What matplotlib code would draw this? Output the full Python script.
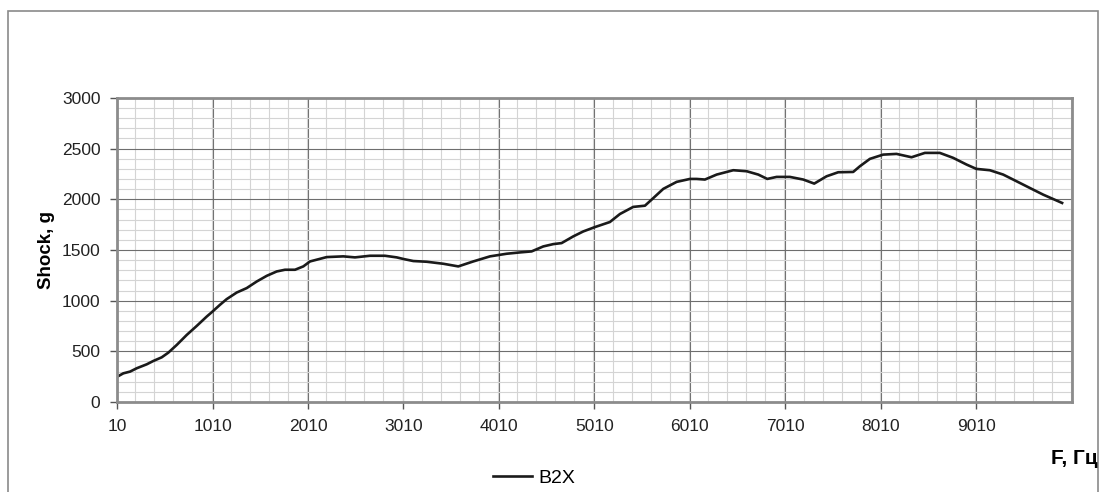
import matplotlib
matplotlib.use("Agg")
from matplotlib import pyplot as plt
from matplotlib.patches import Rectangle
from matplotlib.ticker import MultipleLocator, FixedLocator

# Shock spectrum, B2X
freq = [13, 76, 146, 216, 321, 390, 478, 547, 635, 740, 845, 949, 1002, 1088,
        1158, 1263, 1368, 1473, 1578, 1682, 1769, 1874, 1961, 2031, 2206, 2380,
        2502, 2659, 2816, 2939, 3015, 3113, 3253, 3428, 3584, 3741, 3916, 4091,
        4230, 4352, 4474, 4579, 4666, 4788, 4893, 5015, 5172, 5277, 5416, 5539,
        5609, 5731, 5871, 6010, 6080, 6167, 6290, 6464, 6604, 6726, 6820, 6918,
        7057, 7197, 7312, 7441, 7563, 7720, 7790, 7895, 8034, 8174, 8331, 8471,
        8627, 8767, 8907, 9010, 9151, 9291, 9431, 9570, 9710, 9908]
shock = [250, 283, 300, 333, 372, 405, 441, 487, 563, 662, 751, 843, 886, 959,
         1015, 1080, 1124, 1189, 1245, 1288, 1305, 1305, 1338, 1387, 1430, 1437,
         1427, 1443, 1443, 1427, 1410, 1391, 1384, 1364, 1338, 1387, 1437, 1463,
         1476, 1486, 1535, 1558, 1568, 1634, 1683, 1726, 1776, 1855, 1925, 1937,
         1997, 2103, 2172, 2201, 2201, 2195, 2244, 2287, 2277, 2244, 2201, 2221,
         2221, 2195, 2155, 2227, 2267, 2270, 2326, 2399, 2441, 2448, 2415, 2458,
         2458, 2409, 2343, 2300, 2287, 2244, 2178, 2112, 2046, 1964]

x_ticks = [10, 1010, 2010, 3010, 4010, 5010, 6010, 7010, 8010, 9010]
y_ticks = [0, 500, 1000, 1500, 2000, 2500, 3000]

plt.rcParams["font.family"] = ["Liberation Sans", "DejaVu Sans"]

fig = plt.figure(figsize=(11, 4.92), dpi=100)
ax = fig.add_axes([0.1064, 0.1829, 0.868, 0.618])

# outer frame
fig.patches.append(Rectangle((8 / 1100, -0.01), 1090 / 1100, 1 - 11 / 492 + 0.01,
                             transform=fig.transFigure, fill=False,
                             edgecolor="#8a8a8a", linewidth=1.2))

ax.plot(freq, shock, color="#1a1a1a", linewidth=1.9, label="B2X")

ax.set_xlim(10, 10010)
ax.set_ylim(0, 3000)
ax.xaxis.set_major_locator(FixedLocator(x_ticks))
ax.xaxis.set_minor_locator(MultipleLocator(200))
ax.yaxis.set_major_locator(FixedLocator(y_ticks))
ax.yaxis.set_minor_locator(MultipleLocator(100))

ax.grid(which="minor", color="#d4d4d4", linewidth=0.8)
ax.grid(which="major", color="#6e6e6e", linewidth=0.8)
ax.set_axisbelow(True)

for s in ax.spines.values():
    s.set_color("#8c8c8c")
    s.set_linewidth(2)

ax.tick_params(which="major", direction="out", length=5, width=1, color="#555555",
               labelsize=12.5, labelcolor="#222222", pad=7)
ax.tick_params(which="minor", length=0)

ax.set_ylabel("Shock, g", fontsize=13.5, fontweight="bold", labelpad=5)
fig.text(0.9982, 0.068, "F, Гц", ha="right", va="center", fontsize=15, fontweight="bold")

ax.legend(loc="center", bbox_to_anchor=(0.437, -0.25), frameon=False, fontsize=14,
          handlelength=2.0, handletextpad=0.3)

fig.savefig("out.png", dpi=100)
